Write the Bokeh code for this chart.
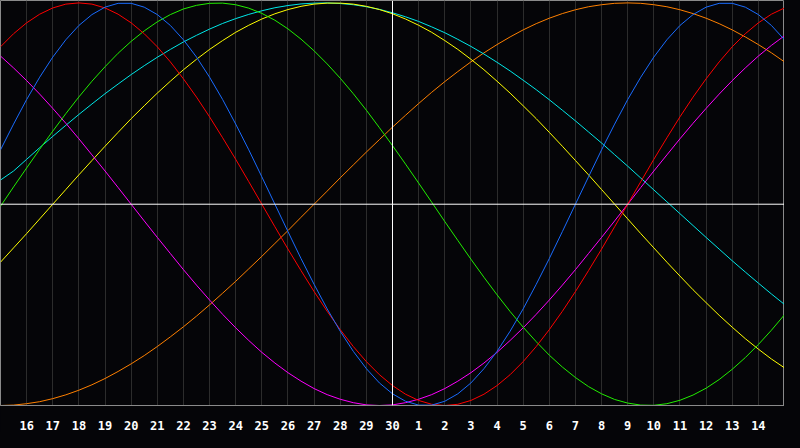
from bokeh.plotting import figure
from bokeh.models import Span, FixedTicker, Range1d
from bokeh.embed import file_html
from bokeh.resources import INLINE

# positions across the 30-day window, in half-day steps (0 = 15th of previous month)
day_pos = [i / 2 for i in range(61)]
grid_days = list(range(31))
tick_positions = list(range(1, 30))
tick_labels = ["16", "17", "18", "19", "20", "21", "22", "23", "24", "25", "26", "27", "28", "29", "30",
               "1", "2", "3", "4", "5", "6", "7", "8", "9", "10", "11", "12", "13", "14"]
today_pos = 15

# cycle values (-1..1) every half day
physical = [0.270, 0.398, 0.520, 0.631, 0.731, 0.817, 0.888, 0.942, 0.979, 0.998, 0.998, 0.979,
            0.942, 0.888, 0.817, 0.731, 0.631, 0.520, 0.398, 0.270, 0.136, 0.000, -0.136, -0.270,
            -0.398, -0.520, -0.631, -0.731, -0.817, -0.888, -0.942, -0.979, -0.998, -0.998, -0.979,
            -0.942, -0.888, -0.817, -0.731, -0.631, -0.520, -0.398, -0.270, -0.136, 0.000, 0.136,
            0.270, 0.398, 0.520, 0.631, 0.731, 0.817, 0.888, 0.942, 0.979, 0.998, 0.998, 0.979,
            0.942, 0.888, 0.817]
emotional = [0.782, 0.847, 0.901, 0.944, 0.975, 0.994, 1.000, 0.994, 0.975, 0.944, 0.901, 0.847,
             0.782, 0.707, 0.623, 0.532, 0.434, 0.330, 0.223, 0.112, 0.000, -0.112, -0.223, -0.330,
             -0.434, -0.532, -0.623, -0.707, -0.782, -0.847, -0.901, -0.944, -0.975, -0.994, -1.000,
             -0.994, -0.975, -0.944, -0.901, -0.847, -0.782, -0.707, -0.623, -0.532, -0.434, -0.330,
             -0.223, -0.112, 0.000, 0.112, 0.223, 0.330, 0.434, 0.532, 0.623, 0.707, 0.782, 0.847,
             0.901, 0.944, 0.975]
intellectual = [-0.010, 0.086, 0.180, 0.273, 0.363, 0.450, 0.533, 0.611, 0.683, 0.750, 0.809, 0.861,
                0.906, 0.942, 0.970, 0.988, 0.998, 0.999, 0.991, 0.974, 0.948, 0.914, 0.871, 0.820,
                0.762, 0.697, 0.626, 0.549, 0.467, 0.380, 0.291, 0.199, 0.105, 0.010, -0.086, -0.180,
                -0.273, -0.363, -0.450, -0.533, -0.611, -0.683, -0.750, -0.809, -0.861, -0.906, -0.942,
                -0.970, -0.988, -0.998, -0.999, -0.991, -0.974, -0.948, -0.914, -0.871, -0.820, -0.762,
                -0.697, -0.626, -0.549]
intuitive = [0.736, 0.677, 0.614, 0.547, 0.476, 0.402, 0.325, 0.245, 0.165, 0.083, 0.000, -0.083,
             -0.165, -0.245, -0.325, -0.402, -0.476, -0.547, -0.614, -0.677, -0.736, -0.789, -0.837,
             -0.879, -0.916, -0.946, -0.969, -0.986, -0.997, -1.000, -0.997, -0.986, -0.969, -0.946,
             -0.916, -0.879, -0.837, -0.789, -0.736, -0.677, -0.614, -0.547, -0.476, -0.402, -0.325,
             -0.245, -0.165, -0.083, 0.000, 0.083, 0.165, 0.245, 0.325, 0.402, 0.476, 0.547, 0.614,
             0.677, 0.736, 0.789, 0.837]
aesthetic = [-0.288, -0.217, -0.146, -0.073, 0.000, 0.073, 0.146, 0.217, 0.288, 0.357, 0.425, 0.489,
             0.552, 0.611, 0.668, 0.720, 0.769, 0.813, 0.854, 0.889, 0.920, 0.946, 0.967, 0.983,
             0.994, 0.999, 0.999, 0.994, 0.983, 0.967, 0.946, 0.920, 0.889, 0.854, 0.813, 0.769,
             0.720, 0.668, 0.611, 0.552, 0.489, 0.425, 0.357, 0.288, 0.217, 0.146, 0.073, 0.000,
             -0.073, -0.146, -0.217, -0.288, -0.357, -0.425, -0.489, -0.552, -0.611, -0.668, -0.720,
             -0.769, -0.813]
awareness = [-1.000, -0.998, -0.991, -0.981, -0.966, -0.947, -0.924, -0.897, -0.866, -0.831, -0.793,
             -0.752, -0.707, -0.659, -0.609, -0.556, -0.500, -0.442, -0.383, -0.321, -0.259, -0.195,
             -0.131, -0.065, 0.000, 0.065, 0.131, 0.195, 0.259, 0.321, 0.383, 0.442, 0.500, 0.556,
             0.609, 0.659, 0.707, 0.752, 0.793, 0.831, 0.866, 0.897, 0.924, 0.947, 0.966, 0.981,
             0.991, 0.998, 1.000, 0.998, 0.991, 0.981, 0.966, 0.947, 0.924, 0.897, 0.866, 0.831,
             0.793, 0.752, 0.707]
spiritual = [0.120, 0.165, 0.223, 0.281, 0.337, 0.392, 0.446, 0.498, 0.549, 0.597, 0.644, 0.688,
             0.730, 0.769, 0.806, 0.839, 0.870, 0.898, 0.922, 0.943, 0.961, 0.976, 0.987, 0.995,
             0.999, 1.000, 0.997, 0.991, 0.981, 0.968, 0.951, 0.931, 0.908, 0.881, 0.852, 0.819,
             0.784, 0.746, 0.705, 0.662, 0.616, 0.569, 0.519, 0.467, 0.414, 0.359, 0.304, 0.246,
             0.189, 0.130, 0.071, 0.012, -0.047, -0.106, -0.165, -0.223, -0.281, -0.337, -0.392,
             -0.446, -0.498]

series = [
    (awareness, "#ff8000"),
    (spiritual, "#00e8e8"),
    (aesthetic, "#ffff00"),
    (intuitive, "#ff00ff"),
    (intellectual, "#22ee00"),
    (emotional, "#ff0000"),
    (physical, "#1a6cff"),
]

BG = "#050508"

p = figure(width=784, height=432, output_backend="svg", toolbar_location=None,
           x_range=Range1d(0, 30), y_range=Range1d(-1.0, 1.012),
           y_axis_location=None,
           background_fill_color=BG, border_fill_color=BG,
           min_border_left=0, min_border_right=0, min_border_top=0, min_border_bottom=24)

p.outline_line_color = "#8a8a8a"
p.outline_line_width = 1

p.ygrid.grid_line_color = None
p.xgrid.ticker = FixedTicker(ticks=grid_days)
p.xgrid.grid_line_color = "#2c2c2c"
p.xgrid.grid_line_width = 1

ax = p.xaxis[0]
ax.ticker = FixedTicker(ticks=tick_positions)
ax.major_label_overrides = {pos: lab for pos, lab in zip(tick_positions, tick_labels)}
ax.axis_line_color = "#8a8a8a"
ax.major_tick_line_color = None
ax.minor_tick_line_color = None
ax.major_label_text_color = "#ffffff"
ax.major_label_text_font = "DejaVu Sans Mono"
ax.major_label_text_font_style = "bold"
ax.major_label_text_font_size = "12px"
ax.major_label_standoff = 9

p.add_layout(Span(location=0, dimension="width", line_color="#ffffff", line_width=1))
p.add_layout(Span(location=today_pos, dimension="height", line_color="#ffffff", line_width=1))

for vals, col in series:
    p.line(day_pos, vals, line_color=col, line_width=1)

html = file_html(p, INLINE)
html = html.replace("</head>", "<style>html,body{background-color:#050508;}</style></head>", 1)
open("out.html", "w").write(html)
